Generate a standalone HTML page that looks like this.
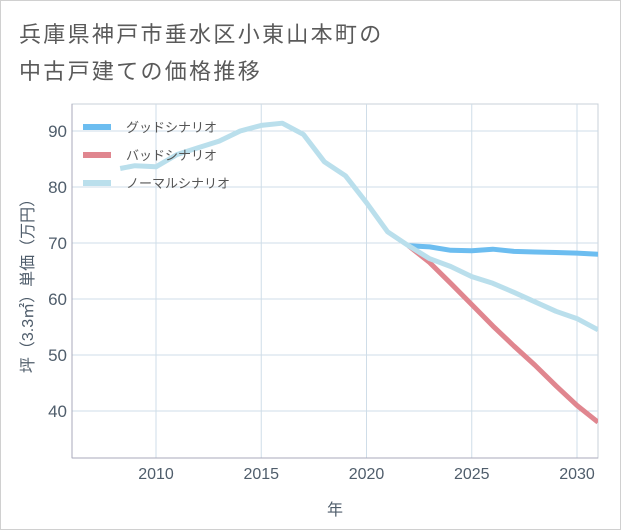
<!DOCTYPE html>
<html><head><meta charset="utf-8"><style>
html,body{margin:0;padding:0;background:#fff;}
#wrap{position:relative;width:619px;height:528px;border:1px solid #d0d0d0;background:#fff;overflow:hidden;}
svg text{font-family:"Liberation Sans","Noto Sans CJK JP",sans-serif;}
</style></head><body>
<div id="wrap">
<svg id="chart" width="621" height="530">
<text x="18" y="41" font-size="22" fill="#5a5a5a" letter-spacing="2.3">兵庫県神戸市垂水区小東山本町の</text>
<text x="18" y="78" font-size="22" fill="#5a5a5a" letter-spacing="2.3">中古戸建ての価格推移</text>
<g id="grid"></g>
<g id="series"></g>
<g id="legend"></g>
</svg>
</div>
<script>
const years = [2008.3,2009,2010,2011,2012,2013,2014,2015,2016,2017,2018,2019,2020,2021,2022,2023,2024,2025,2026,2027,2028,2029,2030,2031];
const normalValues = [83.3,83.8,83.6,85.8,87,88.2,90,91,91.4,89.4,84.5,82,77.2,72,69.5,67.2,65.8,64,62.8,61.2,59.5,57.8,56.5,54.5];
const forecastYears = [2022,2023,2024,2025,2026,2027,2028,2029,2030,2031];
const goodValues = [69.5,69.3,68.7,68.6,68.9,68.5,68.4,68.3,68.2,68];
const badValues = [69.5,66.5,62.8,59,55.2,51.6,48.2,44.5,41,38];
const xTicks = [2010,2015,2020,2025,2030];
const yTicks = [40,50,60,70,80,90];
const legendLabels = ["グッドシナリオ","バッドシナリオ","ノーマルシナリオ"];

const NS="http://www.w3.org/2000/svg";
const L=71,R=597,T=103,B=457;
function xs(y){return 155+(y-2010)*21.05;}
function ys(v){return 130+(90-v)*5.6;}
function mk(tag,attrs,parent){const e=document.createElementNS(NS,tag);for(const k in attrs)e.setAttribute(k,attrs[k]);parent.appendChild(e);return e;}
const svg=document.getElementById('chart');
const grid=document.getElementById('grid');
const defs=mk('defs',{},svg);
const cp=mk('clipPath',{id:'clip'},defs);
mk('rect',{x:L,y:T,width:R-L,height:B-T},cp);
mk('rect',{x:L,y:T,width:R-L,height:B-T,fill:'none',stroke:'#c8d0d8'},grid);
for(const t of yTicks){
  const y=ys(t);
  const ln=mk('line',{x1:L,x2:R,y1:y,y2:y,stroke:'#cfdde8','stroke-width':1},grid);
  
  
  const tx=mk('text',{x:L-5,y:y+6,'text-anchor':'end','font-size':17,fill:'#4f5d6b'},grid);
  tx.textContent=t;
  
  
}
for(const t of xTicks){
  const x=xs(t);
  const ln=mk('line',{x1:x,x2:x,y1:T,y2:B,stroke:'#cfdde8','stroke-width':1},grid);
  
  
  const tx=mk('text',{x:x,y:478,'text-anchor':'middle','font-size':16,fill:'#4f5d6b'},grid);
  tx.textContent=t;
  
  
}
mk('line',{x1:L,x2:L,y1:T,y2:B,stroke:'#aab'},grid);
mk('line',{x1:L,x2:R,y1:B,y2:B,stroke:'#aab'},grid);
const xt=mk('text',{x:334,y:514,'text-anchor':'middle','font-size':16,fill:'#4f5d6b'},grid);
xt.textContent='年';


const yt=mk('text',{x:0,y:0,'text-anchor':'middle','font-size':16,fill:'#4f5d6b',transform:'translate(32,281) rotate(-90)'},grid);
yt.textContent='坪（3.3㎡）単価（万円）';



const series=document.getElementById('series');
series.setAttribute('clip-path','url(#clip)');
function line(xv,yv,color,name){
  const d=xv.map((x,i)=>(i?'L':'M')+xs(x).toFixed(1)+','+ys(yv[i]).toFixed(1)).join('');
  const p=mk('path',{d:d,fill:'none',stroke:color,'stroke-width':5,'stroke-linejoin':'round'},series);
  
  
}
line(forecastYears,badValues,'#e0868f','bad-scenario-line');
line(forecastYears,goodValues,'#6cbdf0','good-scenario-line');
line(years,normalValues,'#badfec','normal-scenario-line');

const legend=document.getElementById('legend');
const lc=['#6cbdf0','#e0868f','#badfec'];
const ln=['legend-good','legend-bad','legend-normal'];
legendLabels.forEach((lab,i)=>{
  const y=126+i*28;
  const g=mk('g',{},legend);
  
  
  mk('line',{x1:82,x2:110,y1:y,y2:y,stroke:lc[i],'stroke-width':6},g);
  const t=mk('text',{x:125,y:y+5,'font-size':13,fill:'#555'},g);
  t.textContent=lab;
});
</script>
</body></html>
